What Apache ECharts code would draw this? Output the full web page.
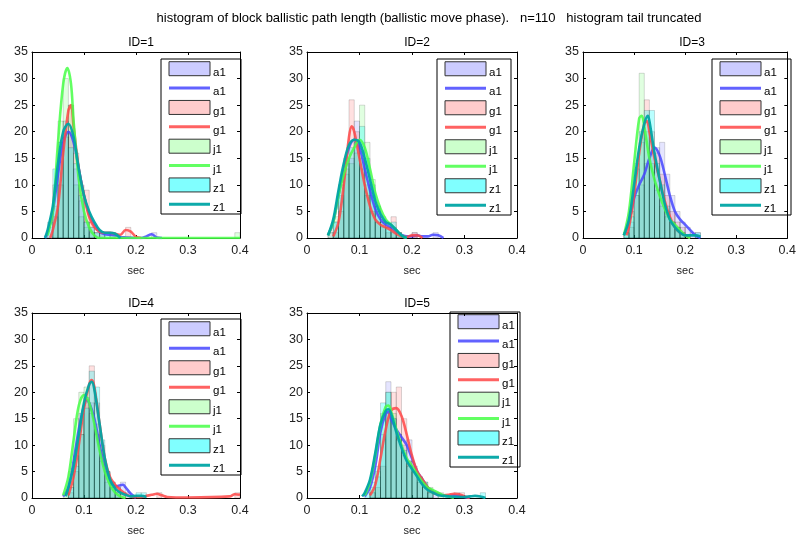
<!DOCTYPE html>
<html>
<head>
<meta charset="utf-8">
<script src="https://cdn.jsdelivr.net/npm/echarts@6/dist/echarts.min.js"></script>
<style>
  html, body { margin: 0; padding: 0; background: #fff; }
  #chart { width: 799px; height: 538px; }
</style>
</head>
<body>
<div id="chart"></div>
<script>
// Histogram bin width (sec); each histogram entry is [bin left edge, density]
const BIN = 0.01;
const SERIES_NAMES = ['a1', 'g1', 'j1', 'z1'];
const PANEL_TITLES = ['ID=1', 'ID=2', 'ID=3', 'ID=4', 'ID=5'];
const X_TICKS = [0, 0.1, 0.2, 0.3, 0.4];
const Y_TICKS = [0, 5, 10, 15, 20, 25, 30, 35];

// ---- ID=1 ----
const hist1_a1 = [[0.03,2],[0.04,10],[0.05,18],[0.06,22],[0.07,20],[0.08,13],[0.09,7],[0.10,3],[0.11,2],[0.12,1],[0.13,1],[0.23,1]];
const hist1_g1 = [[0.04,4],[0.05,10],[0.06,19],[0.07,25],[0.08,16],[0.09,10],[0.10,9],[0.11,3],[0.12,1],[0.13,1],[0.15,1],[0.18,2]];
const hist1_j1 = [[0.04,6],[0.05,22],[0.06,30],[0.07,25],[0.08,10],[0.09,4],[0.10,2],[0.11,1],[0.39,1]];
const hist1_z1 = [[0.03,3],[0.04,13],[0.05,18],[0.06,20],[0.07,17],[0.08,14],[0.09,8],[0.10,3],[0.11,2],[0.12,1],[0.13,1],[0.14,1],[0.15,1]];
const kde1_a1 = [[0.025,0],[0.03,1],[0.04,5],[0.05,12],[0.06,18],[0.07,20],[0.08,18],[0.09,13],[0.10,8],[0.11,4.5],[0.12,2.5],[0.13,1.2],[0.14,0.7],[0.15,0.6],[0.16,0.5],[0.17,0.2],[0.18,0.1],[0.20,0],[0.21,0],[0.22,0.3],[0.23,0.7],[0.24,0.1],[0.25,0]];
const kde1_g1 = [[0.035,0],[0.04,1.5],[0.05,6],[0.06,16],[0.07,24],[0.075,25],[0.08,21],[0.09,13],[0.10,8],[0.11,4],[0.12,2],[0.13,1.2],[0.14,1],[0.15,1],[0.16,0.8],[0.17,0.6],[0.18,1.5],[0.19,1.2],[0.20,0.2],[0.21,0]];
const kde1_j1 = [[0.03,0.5],[0.04,5],[0.05,18],[0.06,29],[0.068,32],[0.075,29],[0.08,22],[0.09,11],[0.10,5],[0.11,2],[0.12,0.5],[0.13,0],[0.20,0],[0.30,0],[0.40,0]];
const kde1_z1 = [[0.025,0],[0.03,1.5],[0.04,6],[0.05,14],[0.06,20],[0.07,21.5],[0.08,19],[0.09,13],[0.10,8],[0.11,5],[0.12,3],[0.13,1.5],[0.14,1],[0.15,1],[0.16,0.8],[0.17,0]];

// ---- ID=2 ----
const hist2_a1 = [[0.04,1],[0.05,3],[0.06,8],[0.07,12],[0.08,15],[0.09,22],[0.10,15],[0.11,10],[0.12,8],[0.13,5],[0.14,3],[0.15,2],[0.16,2],[0.17,1],[0.20,1],[0.24,1]];
const hist2_g1 = [[0.05,1],[0.06,5],[0.07,15],[0.08,26],[0.09,20],[0.10,13],[0.11,8],[0.12,5],[0.13,3],[0.14,2],[0.15,1],[0.16,4],[0.17,1],[0.20,1]];
const hist2_j1 = [[0.04,1],[0.05,4],[0.06,10],[0.07,13],[0.08,14],[0.09,16],[0.10,25],[0.11,18],[0.12,11],[0.13,6],[0.14,4],[0.15,2],[0.16,1],[0.17,1]];
const hist2_z1 = [[0.05,3],[0.06,10],[0.07,14],[0.08,17],[0.09,18],[0.10,21],[0.11,15],[0.12,10],[0.13,6],[0.14,3],[0.15,2],[0.16,3],[0.17,1]];
const kde2_a1 = [[0.04,0.5],[0.05,3],[0.06,8],[0.07,13],[0.08,17],[0.09,18.5],[0.10,17],[0.11,13],[0.12,9],[0.13,5.5],[0.14,3.5],[0.15,2.5],[0.16,2],[0.17,1.2],[0.18,0.6],[0.19,0.3],[0.20,0.3],[0.21,0.5],[0.22,0.3],[0.23,0.3],[0.24,0.6],[0.25,0.5],[0.26,0]];
const kde2_g1 = [[0.05,0.3],[0.06,3],[0.07,10],[0.08,19],[0.085,21],[0.09,20],[0.10,15],[0.11,10],[0.12,6],[0.13,3.5],[0.14,2.5],[0.15,2],[0.16,1.5],[0.17,0.8],[0.18,0.3],[0.19,0.2],[0.20,0.5],[0.21,0.5],[0.22,0]];
const kde2_j1 = [[0.04,0.5],[0.05,3],[0.06,8],[0.07,12],[0.08,15],[0.09,17],[0.10,18.5],[0.11,17],[0.12,13],[0.13,8.5],[0.14,5.5],[0.15,3.5],[0.16,2.5],[0.17,1.5],[0.18,0.5],[0.19,0]];
const kde2_z1 = [[0.04,0.5],[0.05,3.5],[0.06,9],[0.07,14],[0.08,17.5],[0.09,18.5],[0.10,18],[0.11,15],[0.12,11],[0.13,7],[0.14,4.5],[0.15,3],[0.16,2.5],[0.17,1.5],[0.18,0.5],[0.19,0]];

// ---- ID=3 ----
const hist3_a1 = [[0.08,1],[0.09,3],[0.10,8],[0.11,10],[0.12,14],[0.13,16],[0.14,17],[0.15,18],[0.16,12],[0.17,8],[0.18,5],[0.19,3],[0.20,2],[0.21,1],[0.22,1]];
const hist3_g1 = [[0.09,2],[0.10,8],[0.11,18],[0.12,26],[0.13,20],[0.14,16],[0.15,12],[0.16,8],[0.17,5],[0.18,3],[0.19,2]];
const hist3_j1 = [[0.08,1],[0.09,5],[0.10,14],[0.11,31],[0.12,20],[0.13,14],[0.14,9],[0.15,6],[0.16,4],[0.17,3],[0.18,2],[0.19,1]];
const hist3_z1 = [[0.08,1],[0.09,4],[0.10,13],[0.11,20],[0.12,24],[0.13,24],[0.14,14],[0.15,10],[0.16,6],[0.17,3],[0.18,2],[0.19,1],[0.22,1]];
const kde3_a1 = [[0.08,0.5],[0.09,3],[0.10,7.5],[0.11,10],[0.12,12],[0.13,15],[0.14,17],[0.15,15.5],[0.16,12],[0.17,8],[0.18,5],[0.19,3.5],[0.20,2.5],[0.21,1.5],[0.22,0.5],[0.23,0]];
const kde3_g1 = [[0.085,0.5],[0.09,2],[0.10,8],[0.11,16],[0.12,21.5],[0.125,22],[0.13,20],[0.14,15],[0.15,11],[0.16,7],[0.17,4],[0.18,2],[0.19,1],[0.20,0.5],[0.21,0]];
const kde3_j1 = [[0.08,0.5],[0.09,5],[0.10,14],[0.11,22.5],[0.115,23],[0.12,21],[0.13,15],[0.14,11],[0.15,8],[0.16,5.5],[0.17,3.5],[0.18,2.5],[0.19,1.5],[0.20,0.5],[0.21,0]];
const kde3_z1 = [[0.08,0.5],[0.09,3.5],[0.10,10],[0.11,17],[0.12,21.5],[0.127,23],[0.13,22],[0.14,16],[0.15,11],[0.16,6.5],[0.17,3.5],[0.18,2],[0.19,1],[0.20,0.5],[0.21,0.5],[0.22,0.5],[0.23,0.3]];

// ---- ID=4 ----
const hist4_a1 = [[0.07,2],[0.08,8],[0.09,16],[0.10,19],[0.11,18],[0.12,14],[0.13,9],[0.14,5],[0.15,3],[0.16,2],[0.17,3],[0.18,1]];
const hist4_g1 = [[0.07,1],[0.08,5],[0.09,12],[0.10,18],[0.11,25],[0.12,18],[0.13,10],[0.14,5],[0.15,3],[0.16,2],[0.17,1],[0.24,1],[0.39,1]];
const hist4_j1 = [[0.06,1],[0.07,5],[0.08,15],[0.09,20],[0.10,21],[0.11,16],[0.12,12],[0.13,7],[0.14,3],[0.15,2],[0.16,1]];
const hist4_z1 = [[0.07,2],[0.08,6],[0.09,12],[0.10,17],[0.11,24],[0.12,21],[0.13,11],[0.14,5],[0.15,2],[0.16,1],[0.20,1],[0.21,1]];
const kde4_a1 = [[0.06,0.3],[0.07,2],[0.08,7],[0.09,13],[0.10,17.5],[0.105,18.5],[0.11,18],[0.12,15],[0.13,10],[0.14,6],[0.15,3.5],[0.16,2.2],[0.17,2.4],[0.175,2.5],[0.18,2],[0.19,0.8],[0.20,0]];
const kde4_g1 = [[0.07,0.5],[0.08,4],[0.09,10],[0.10,17],[0.11,21.5],[0.115,22.3],[0.12,21],[0.13,14],[0.14,7.5],[0.15,4],[0.16,2.5],[0.17,1.5],[0.18,0.8],[0.19,0.3],[0.20,0.2],[0.21,0.2],[0.22,0.4],[0.23,0.6],[0.24,0.8],[0.25,0.5],[0.26,0.2],[0.30,0.1],[0.38,0.3],[0.39,0.7],[0.40,0.6]];
const kde4_j1 = [[0.06,0.5],[0.07,4],[0.08,11],[0.09,17.5],[0.10,19.5],[0.11,18],[0.12,14],[0.13,9],[0.14,5],[0.15,2.5],[0.16,1],[0.17,0.3],[0.18,0]];
const kde4_z1 = [[0.065,0.3],[0.07,2],[0.08,6],[0.09,12],[0.10,18],[0.11,21.5],[0.115,22],[0.12,20.5],[0.13,14],[0.14,7.5],[0.15,3.5],[0.16,1.8],[0.17,1],[0.18,0.6],[0.19,0.3],[0.20,0.4],[0.21,0.4],[0.22,0.2]];

// ---- ID=5 ----
const hist5_a1 = [[0.12,1],[0.13,4],[0.14,12],[0.15,22],[0.16,15],[0.17,12],[0.18,10],[0.19,11],[0.20,6],[0.21,3],[0.22,2],[0.23,1],[0.24,1]];
const hist5_g1 = [[0.12,1],[0.13,2],[0.14,6],[0.15,16],[0.16,20],[0.17,21],[0.18,15],[0.19,7],[0.20,5],[0.21,3],[0.22,2],[0.23,1],[0.28,1],[0.29,1]];
const hist5_j1 = [[0.12,2],[0.13,5],[0.14,16],[0.15,20],[0.16,16],[0.17,12],[0.18,8],[0.19,7],[0.20,5],[0.21,4],[0.22,3],[0.23,2],[0.25,1]];
const hist5_z1 = [[0.11,1],[0.12,3],[0.13,6],[0.14,18],[0.15,20],[0.16,15],[0.17,11],[0.18,9],[0.19,6],[0.20,5],[0.21,4],[0.22,3],[0.23,1],[0.33,1]];
const kde5_a1 = [[0.11,0.3],[0.12,2],[0.13,6],[0.14,12.5],[0.15,16],[0.155,16.3],[0.16,15],[0.17,13],[0.18,11.5],[0.19,10],[0.20,7.5],[0.21,5],[0.22,3.5],[0.23,2],[0.24,1.2],[0.25,0.8],[0.26,0.5],[0.27,0.4],[0.28,0.5],[0.29,0.4],[0.30,0.2],[0.31,0]];
const kde5_g1 = [[0.12,0.5],[0.13,2.5],[0.14,7.5],[0.15,13],[0.16,16.5],[0.17,17],[0.18,15.5],[0.19,12],[0.20,8],[0.21,5],[0.22,3.5],[0.23,2],[0.24,1],[0.25,0.7],[0.26,0.5],[0.27,0.6],[0.28,0.8],[0.29,0.7],[0.30,0.3],[0.31,0]];
const kde5_j1 = [[0.11,0.5],[0.12,3],[0.13,8],[0.14,14],[0.15,17.3],[0.155,17.5],[0.16,16.5],[0.17,13],[0.18,10],[0.19,7.5],[0.20,6],[0.21,4.5],[0.22,3],[0.23,2],[0.24,1.5],[0.25,1],[0.26,0.5],[0.27,0.3],[0.28,0]];
const kde5_z1 = [[0.105,0.3],[0.11,1],[0.12,3.5],[0.13,8.5],[0.14,14],[0.15,16.5],[0.155,16.8],[0.16,16],[0.17,12.5],[0.18,9.5],[0.19,7],[0.20,5.5],[0.21,4],[0.22,2.5],[0.23,1.5],[0.24,1],[0.25,0.5],[0.26,0.4],[0.27,0.3],[0.30,0.2],[0.31,0.3],[0.32,0.4],[0.33,0.3],[0.34,0]];

const HISTS = [
  [hist1_a1, hist1_g1, hist1_j1, hist1_z1],
  [hist2_a1, hist2_g1, hist2_j1, hist2_z1],
  [hist3_a1, hist3_g1, hist3_j1, hist3_z1],
  [hist4_a1, hist4_g1, hist4_j1, hist4_z1],
  [hist5_a1, hist5_g1, hist5_j1, hist5_z1]
];
const KDES = [
  [kde1_a1, kde1_g1, kde1_j1, kde1_z1],
  [kde2_a1, kde2_g1, kde2_j1, kde2_z1],
  [kde3_a1, kde3_g1, kde3_j1, kde3_z1],
  [kde4_a1, kde4_g1, kde4_j1, kde4_z1],
  [kde5_a1, kde5_g1, kde5_j1, kde5_z1]
];

// ---- styling / layout ----
const FONT = '"Liberation Sans", Arial, Helvetica, sans-serif';
const BAR_FILL = ['rgba(0,0,255,0.1)', 'rgba(255,0,0,0.12)', 'rgba(0,255,0,0.12)', 'rgba(0,255,255,0.28)'];
const PATCH_FILL = ['#ccccff', '#ffcccc', '#ccffcc', '#80ffff'];
const BAR_EDGE = 'rgba(0,0,0,0.15)';
const LINE_COLOR = ['rgba(70,70,255,0.85)', 'rgba(255,70,70,0.85)', 'rgba(70,255,70,0.85)', 'rgba(0,165,165,0.95)'];

const GRIDS = [
  { left: 32, top: 52, width: 208, height: 186 },
  { left: 307, top: 52, width: 210, height: 186 },
  { left: 583, top: 52, width: 208, height: 186 },
  { left: 32, top: 313, width: 208, height: 185 },
  { left: 307, top: 313, width: 210, height: 185 }
];
const LEGEND_BOXES = [
  { x: 161, y: 59, w: 80, h: 155 },
  { x: 437, y: 59, w: 74, h: 156 },
  { x: 712, y: 59, w: 79, h: 156 },
  { x: 161, y: 319, w: 80, h: 156 },
  { x: 450, y: 312, w: 70, h: 155 }
];

const chart = echarts.init(document.getElementById('chart'), null, { renderer: 'canvas' });

const grid = [], xAxis = [], yAxis = [], series = [], title = [], graphic = [];

title.push({
  text: 'histogram of block ballistic path length (ballistic move phase).   n=110   histogram tail truncated',
  left: 424, top: 7, textAlign: 'center',
  textStyle: { fontFamily: FONT, fontSize: 13, fontWeight: 'normal', color: '#000' }
});

const fmtX = v => (Math.round(v * 10) / 10).toString();

GRIDS.forEach((g, p) => {
  grid.push({ left: g.left, top: g.top, width: g.width, height: g.height, show: false, containLabel: false });
  title.push({
    text: PANEL_TITLES[p], left: g.left + g.width / 2, top: g.top - 20, textAlign: 'center',
    textStyle: { fontFamily: FONT, fontSize: 12, fontWeight: 'normal', color: '#000' }
  });
  const common = {
    gridIndex: p, type: 'value', splitLine: { show: false },
    axisLine: { show: true, onZero: false, lineStyle: { color: '#000', width: 1 } },
    axisTick: { show: true, inside: true, length: 3, lineStyle: { color: '#000' } }
  };
  // bottom axis with labels, top axis as box edge with ticks
  xAxis.push(Object.assign({}, common, {
    position: 'bottom', min: X_TICKS[0], max: X_TICKS[X_TICKS.length - 1], interval: 0.1,
    name: 'sec', nameLocation: 'middle', nameGap: 27,
    nameTextStyle: { fontFamily: FONT, fontSize: 11, color: '#222' },
    axisLabel: { formatter: fmtX, fontFamily: FONT, fontSize: 12.5, color: '#222', margin: 6 }
  }));
  xAxis.push(Object.assign({}, common, {
    position: 'top', min: X_TICKS[0], max: X_TICKS[X_TICKS.length - 1], interval: 0.1,
    axisLabel: { show: false }
  }));
  yAxis.push(Object.assign({}, common, {
    position: 'left', min: Y_TICKS[0], max: Y_TICKS[Y_TICKS.length - 1], interval: 5,
    axisLabel: { fontFamily: FONT, fontSize: 12.5, color: '#222', margin: 4 }
  }));
  yAxis.push(Object.assign({}, common, {
    position: 'right', min: Y_TICKS[0], max: Y_TICKS[Y_TICKS.length - 1], interval: 5,
    axisLabel: { show: false }
  }));

  // histograms
  HISTS[p].forEach((data, s) => {
    series.push({
      type: 'custom', name: SERIES_NAMES[s], xAxisIndex: p * 2, yAxisIndex: p * 2,
      data: data, encode: { x: 0, y: 1 }, z: 2, clip: true, silent: true,
      renderItem: (params, api) => {
        const x0 = api.value(0), h = api.value(1);
        const a = api.coord([x0, h]);
        const b = api.coord([x0 + BIN, 0]);
        return {
          type: 'rect',
          shape: { x: a[0], y: a[1], width: b[0] - a[0], height: b[1] - a[1] },
          style: { fill: BAR_FILL[s], stroke: BAR_EDGE, lineWidth: 1 }
        };
      }
    });
  });
  // density curves
  KDES[p].forEach((data, s) => {
    series.push({
      type: 'line', name: SERIES_NAMES[s], xAxisIndex: p * 2, yAxisIndex: p * 2,
      data: data, showSymbol: false, smooth: 0.35, z: 3, silent: true,
      lineStyle: { color: LINE_COLOR[s], width: 2.6 }
    });
  });

  // legend box
  const L = LEGEND_BOXES[p];
  const kids = [{
    type: 'rect', shape: { x: L.x, y: L.y, width: L.w, height: L.h },
    style: { fill: '#fff', stroke: '#000', lineWidth: 1 }
  }];
  const step = L.h / 8;
  for (let i = 0; i < 8; i++) {
    const s = Math.floor(i / 2);
    const cy = L.y + step * (i + 0.5);
    if (i % 2 === 0) {
      kids.push({
        type: 'rect', shape: { x: L.x + 8, y: cy - 7, width: 41, height: 14 },
        style: { fill: PATCH_FILL[s], stroke: '#333', lineWidth: 1 }
      });
    } else {
      kids.push({
        type: 'line', shape: { x1: L.x + 8, y1: cy, x2: L.x + 49, y2: cy },
        style: { stroke: LINE_COLOR[s], lineWidth: 3 }
      });
    }
    kids.push({
      type: 'text', x: L.x + 52, y: cy + 4,
      style: { text: SERIES_NAMES[s], fontFamily: FONT, fontSize: 11.5, fill: '#000', verticalAlign: 'middle' }
    });
  }
  graphic.push({ type: 'group', z: 100, children: kids });
});

chart.setOption({
  animation: false,
  backgroundColor: '#fff',
  title, grid, xAxis, yAxis, series, graphic
});
</script>
</body>
</html>
